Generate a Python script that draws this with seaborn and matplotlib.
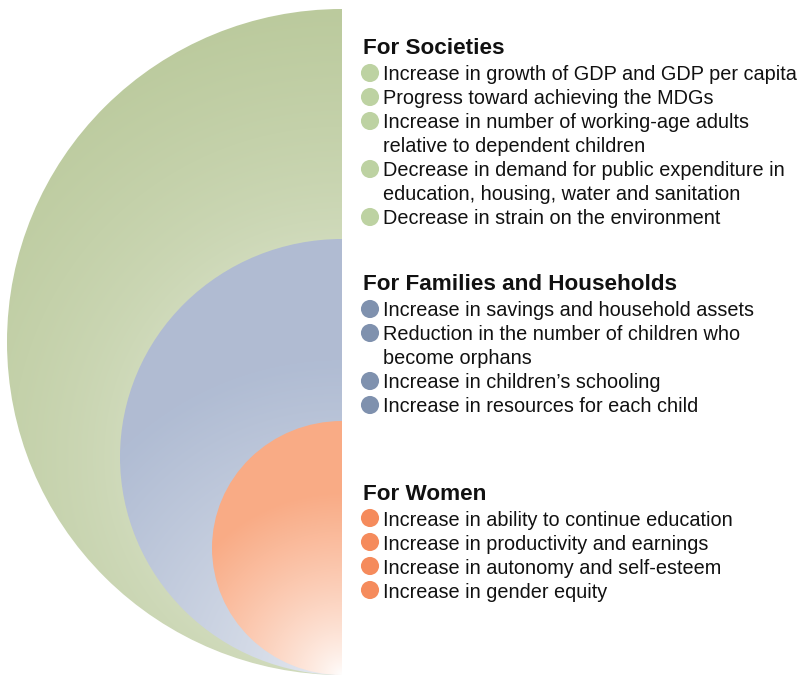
import numpy as np
import matplotlib
matplotlib.use("Agg")
import matplotlib.pyplot as plt
from matplotlib.patches import Ellipse
from matplotlib.colors import to_rgb
import seaborn as sns
import pandas as pd

# ---------------- data ----------------
section_titles = ["For Societies", "For Families and Households", "For Women"]
societies_items = [
    "Increase in growth of GDP and GDP per capita",
    "Progress toward achieving the MDGs",
    "Increase in number of working-age adults\nrelative to dependent children",
    "Decrease in demand for public expenditure in\neducation, housing, water and sanitation",
    "Decrease in strain on the environment",
]
families_items = [
    "Increase in savings and household assets",
    "Reduction in the number of children who\nbecome orphans",
    "Increase in children\u2019s schooling",
    "Increase in resources for each child",
]
women_items = [
    "Increase in ability to continue education",
    "Increase in productivity and earnings",
    "Increase in autonomy and self-esteem",
    "Increase in gender equity",
]
section_items = [societies_items, families_items, women_items]
area_colors = ["#bbca9d", "#b0bcd3", "#f9ab85"]
bullet_colors = ["#bdd2a2", "#7f91ae", "#f58b5c"]

# ---------------- layout ----------------
W, H = 798, 677
sns.set_theme(style="white")
plt.rcParams["font.family"] = ["Liberation Sans", "DejaVu Sans"]

fig = plt.figure(figsize=(W / 100, H / 100), dpi=100)
ax = fig.add_axes([0, 0, 1, 1])
ax.set_xlim(0, W)
ax.set_ylim(H, 0)
ax.axis("off")

cx, base_y = 342, 675
shapes = [(335, 333), (222, 218), (130, 127)]  # (rx, ry)
# gradient focus (y), inner radius, outer radius, lightest share of colour
grad_focus_y = [457, 675, 675]
grad_r0 = [215, 0, 0]
grad_r1 = [450, 314, 183]
grad_floor = [0.68, 0.25, 0.0]

for i, ((rx, ry), col) in enumerate(zip(shapes, area_colors)):
    cy = base_y - ry
    x0, x1 = cx - rx, cx
    y0, y1 = cy - ry, cy + ry
    nx, ny = int(rx) * 2, int(2 * ry) * 2
    xs = np.linspace(x0, x1, nx)
    ys = np.linspace(y0, y1, ny)
    X, Y = np.meshgrid(xs, ys)
    d = np.hypot(X - cx, Y - grad_focus_y[i])
    f = np.clip((d - grad_r0[i]) / (grad_r1[i] - grad_r0[i]), 0, 1) ** 0.75
    s = grad_floor[i] + (1 - grad_floor[i]) * f
    base = np.array(to_rgb(col))
    img = (1 - s[..., None]) * 1.0 + s[..., None] * base
    im = ax.imshow(img, extent=(x0, x1, y1, y0), origin="upper",
                   interpolation="bilinear", zorder=1, aspect="auto")
    ell = Ellipse((cx, cy), 2 * rx, 2 * ry, transform=ax.transData,
                  facecolor="none", edgecolor="none")
    ax.add_patch(ell)
    im.set_clip_path(ell)

heading_y = [47, 283, 492]
line_h = 24
text_dy = 2
rows = []
for si, (title, items) in enumerate(zip(section_titles, section_items)):
    ax.text(363, heading_y[si] + text_dy, title, fontsize=16.2,
            fontweight="bold", ha="left", va="center", color="#111111")
    y = heading_y[si] + 26
    for item in items:
        rows.append({"x": 370, "y": y, "section": title})
        for line in item.split("\n"):
            ax.text(383, y + text_dy, line, fontsize=14.3, ha="left",
                    va="center", color="#111111")
            y += line_h

df = pd.DataFrame(rows)
sns.scatterplot(data=df, x="x", y="y", hue="section",
                palette=dict(zip(section_titles, bullet_colors)),
                s=170, linewidth=0, legend=False, ax=ax, zorder=3)
ax.set_xlim(0, W)
ax.set_ylim(H, 0)
ax.axis("off")

fig.savefig("out.png", dpi=100, facecolor="white")
